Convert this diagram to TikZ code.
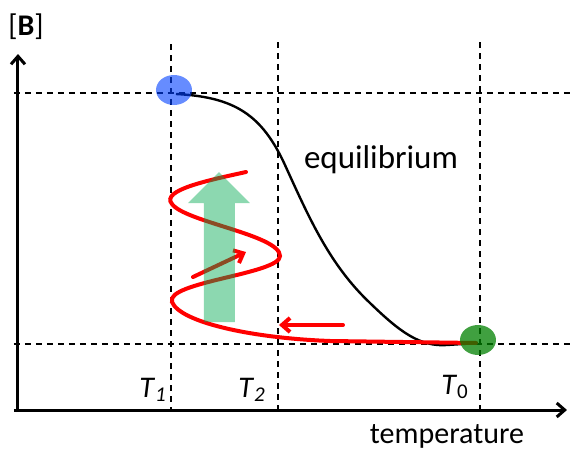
\documentclass[tikz,border=0pt]{standalone}
\usepackage{fontspec}
\setmainfont{Carlito}
\usetikzlibrary{arrows.meta,positioning,calc,shapes.geometric}
\definecolor{coldblue} {HTML}{0040FF}
\definecolor{warmgreen}{HTML}{008000}
\definecolor{heatgreen}{HTML}{00A850}
\definecolor{pathred}  {HTML}{FF0000}

\begin{document}
\begin{tikzpicture}[x=0.5pt,y=-0.5pt,
  font=\fontsize{15}{17}\selectfont,
  axis/.style={line width=1.5pt, -{Straight Barb[length=4pt,width=7pt]}},
  guide/.style={line width=0.7pt, dash pattern=on 3pt off 2.5pt},
  hot/.style={pathred, line width=2pt, line cap=round}]
  \useasboundingbox (0,0) rectangle (570,450);
  % axes
  \coordinate (origin) at (18,410);
  \coordinate (ytop) at (18,54);
  \coordinate (xend) at (567,410);
  \draw[axis] (14,410) -- (xend);
  \draw[axis] (18,412) -- (ytop);
  \node (ylab) at (26,27) {[\textbf{B}]};
  \node (xlab) at (447,436) {temperature};
  % guide lines
  \draw[guide] (14,93) -- (570,93);
  \draw[guide] (14,344) -- (570,344);
  \draw[guide] (171,44) -- (171,410);
  \draw[guide] (278,42) -- (278,410);
  \draw[guide] (480,42) -- (480,410);
  \node (tone) at (153,390) {\textit{T}\textsubscript{\textit{1}}};
  \node (ttwo) at (252,390) {\textit{T}\textsubscript{\textit{2}}};
  \node (tzero) at (455,387) {\textit{T}\textsubscript{0}};
  % equilibrium curve
  \draw[line width=1.2pt] (176,94) .. controls (235,97) and (262,115) .. (285,165)
    .. controls (310,220) and (330,265) .. (370,303)
    .. controls (400,332) and (420,347) .. (447,345) -- (478,343);
  \node[font=\fontsize{16.5}{18}\selectfont] (eqlab) at (381,160) {equilibrium};
  % trajectory
  \draw[hot] (246,172) .. controls (210,180) and (160,190) .. (172,204)
    .. controls (185,222) and (280,235) .. (280,256)
    .. controls (280,274) and (165,282) .. (172,302)
    .. controls (180,322) and (250,338) .. (330,341) -- (476,343);
  \coordinate (wiggleA) at (193,277);
  \coordinate (wiggleB) at (246,252);
  \draw[hot, -{Straight Barb[length=4pt,width=7pt]}] (wiggleA) -- (wiggleB);
  \coordinate (backA) at (343,325);
  \coordinate (backB) at (279,325);
  \draw[hot, -{Straight Barb[length=4pt,width=7pt]}] (backA) -- (backB);
  % heating arrow
  \fill[heatgreen, opacity=0.45] (204,322) -- (204,203) -- (188,203) -- (219,172)
    -- (250,203) -- (235,203) -- (235,322) -- cycle;
  % states
  \node[ellipse, fill=coldblue, opacity=0.6, minimum width=18pt, minimum height=15pt,
    inner sep=0pt] (cold) at (174,90) {};
  \node[ellipse, fill=warmgreen, opacity=0.75, minimum width=18pt, minimum height=15pt,
    inner sep=0pt] (warm) at (478,340) {};
\end{tikzpicture}
\end{document}
